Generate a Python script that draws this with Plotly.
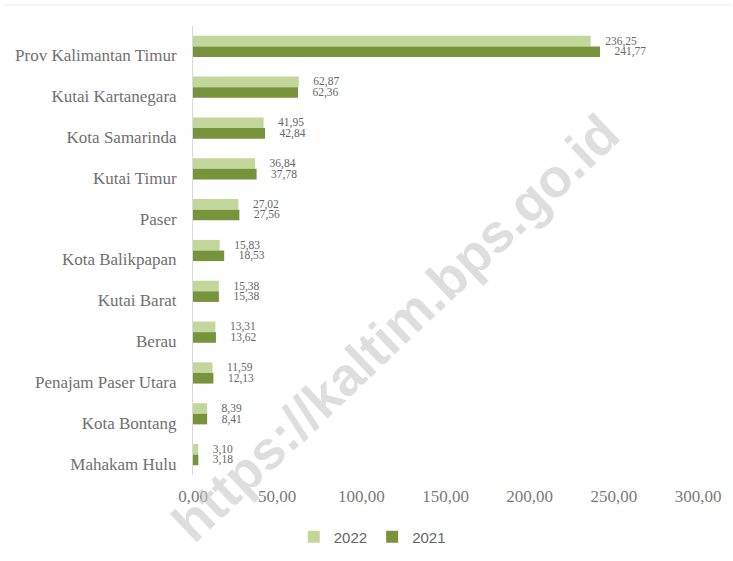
import plotly.graph_objects as go

categories = ["Prov Kalimantan Timur", "Kutai Kartanegara", "Kota Samarinda", "Kutai Timur",
              "Paser", "Kota Balikpapan", "Kutai Barat", "Berau", "Penajam Paser Utara",
              "Kota Bontang", "Mahakam Hulu"]
values_2022 = [236.25, 62.87, 41.95, 36.84, 27.02, 15.83, 15.38, 13.31, 11.59, 8.39, 3.10]
values_2021 = [241.77, 62.36, 42.84, 37.78, 27.56, 18.53, 15.38, 13.62, 12.13, 8.41, 3.18]
x_ticks = [0, 50, 100, 150, 200, 250, 300]

LIGHT = "#C3D69B"
DARK = "#77933C"
SERIF = "Liberation Serif, Times New Roman, serif"

fig = go.Figure()
for name, vals, col in [("2022", values_2022, LIGHT), ("2021", values_2021, DARK)]:
    fig.add_trace(go.Bar(
        name=name, y=categories, x=vals, orientation="h",
        marker=dict(color=col, line=dict(width=0)),
        texttemplate="\u00a0\u00a0\u00a0\u00a0%{x:.2f}", textposition="outside",
        textfont=dict(family=SERIF, size=11.5, color="#666666"),
        constraintext="none", cliponaxis=False,
    ))

fig.update_layout(
    width=733, height=561,
    margin=dict(l=193, r=35, t=26, b=86, autoexpand=False),
    paper_bgcolor="white", plot_bgcolor="white",
    barmode="group", bargap=0.48, bargroupgap=0,
    separators=",.",
    showlegend=True,
    legend=dict(orientation="h", x=0.355, xanchor="center", y=-0.138, yanchor="middle",
                font=dict(family="Liberation Sans, Arial, sans-serif", size=15, color="#666666"),
                itemwidth=30, traceorder="normal"),
    xaxis=dict(range=[0, 300], tickvals=x_ticks, tickformat=".2f", automargin=False,
               showgrid=False, zeroline=False, showline=False, ticks="",
               tickfont=dict(family=SERIF, size=17, color="#7a7a7a"), ticklabelstandoff=9),
    yaxis=dict(type="category", categoryorder="array", categoryarray=categories,
               autorange="reversed", showgrid=False, zeroline=False, automargin=False,
               showline=True, linecolor="#d9d9d9", linewidth=1, ticks="",
               tickfont=dict(family=SERIF, size=17, color="#707070"),
               ticklabelstandoff=12, ticklabelshift=-9),
    shapes=[dict(type="line", xref="paper", yref="paper", x0=-0.376, x1=1.067,
                 y0=1.0468, y1=1.0468, line=dict(color="#eeeeee", width=1))],
    annotations=[dict(text="https://kaltim.bps.go.id", xref="paper", yref="paper",
                      x=(395 - 193) / 505, y=(475 - 328) / 449, xanchor="center", yanchor="middle",
                      textangle=-43.5, showarrow=False,
                      font=dict(family="Liberation Sans, Arial, sans-serif", size=54,
                                color="rgba(200,200,200,0.6)", weight="bold"))],
)

fig.write_html("out.html", config={"displayModeBar": False},
               post_script="document.body.style.margin='0';")
